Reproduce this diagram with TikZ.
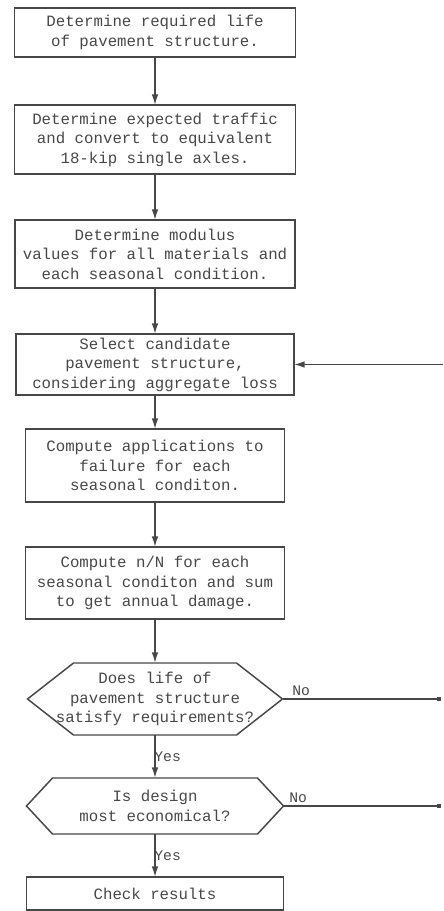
\documentclass[tikz,border=0pt]{standalone}
\usepackage{fontspec}
\setmainfont{Liberation Mono}
\usetikzlibrary{positioning, arrows.meta}

\begin{document}
\begin{tikzpicture}[
    x=0.75pt, y=-0.75pt,
    txt/.style={font=\fontsize{11.8}{14.6}\selectfont, text=black!72},
    box/.style={txt, draw=black!72, line width=1.1pt, align=center, inner sep=2pt, outer sep=0pt},
    decision/.style={txt, align=center, inner sep=0pt, outer sep=0pt},
    hexline/.style={draw=black!72, line width=1.1pt, line join=miter},
    arrow/.style={-{Latex[length=8pt, width=5pt]}, draw=black!72, line width=1.1pt},
    noline/.style={-{Square[length=3pt, width=3.5pt]}, draw=black!72, line width=0.8pt},
    lbl/.style={font=\fontsize{11}{13}\selectfont, text=black!72, inner sep=1pt},
]

\useasboundingbox (0,0) rectangle (443,911);

% Steps of the design procedure
\node[box, minimum width=210.75pt, minimum height=36.75pt] (life) at (155,32.5)
    {Determine required life\\of pavement structure.};
\node[box, below=36pt of life, minimum width=210.75pt, minimum height=51.75pt] (traffic)
    {Determine expected traffic\\and convert to equivalent\\18-kip single axles.};
\node[box, below=34.5pt of traffic, minimum width=210pt, minimum height=51pt] (modulus)
    {Determine modulus\\values for all materials and\\each seasonal condition.};
\node[box, below=34.5pt of modulus, minimum width=208.5pt, minimum height=45.75pt] (select)
    {Select candidate\\pavement structure,\\considering aggregate loss};
\node[box, below=25.5pt of select, minimum width=194.25pt, minimum height=54.75pt] (apps)
    {Compute applications to\\failure for each\\seasonal conditon.};
\node[box, below=33.75pt of apps, minimum width=194.25pt, minimum height=54pt] (damage)
    {Compute n/N for each\\seasonal conditon and sum\\to get annual damage.};

% Decisions
\node[decision, below=33pt of damage, minimum width=191.25pt, minimum height=54pt] (lifeok)
    {Does life of\\pavement structure\\satisfy requirements?};
\draw[hexline] (lifeok.west) -- ([xshift=34.5pt]lifeok.north west) -- ([xshift=-34.5pt]lifeok.north east)
    -- (lifeok.east) -- ([xshift=-34.5pt]lifeok.south east) -- ([xshift=34.5pt]lifeok.south west) -- cycle;

\node[decision, below=32.25pt of lifeok, minimum width=192.75pt, minimum height=42pt] (econ)
    {Is design\\most economical?};
\draw[hexline] (econ.west) -- ([xshift=19.5pt]econ.north west) -- ([xshift=-19.5pt]econ.north east)
    -- (econ.east) -- ([xshift=-19.5pt]econ.south east) -- ([xshift=19.5pt]econ.south west) -- cycle;

\node[box, below=32.25pt of econ, minimum width=192.75pt, minimum height=24.75pt] (check) {Check results};

% Flow
\draw[arrow] (life.south) -- (traffic.north);
\draw[arrow] (traffic.south) -- (modulus.north);
\draw[arrow] (modulus.south) -- (select.north);
\draw[arrow] (select.south) -- (apps.north);
\draw[arrow] (apps.south) -- (damage.north);
\draw[arrow] (damage.south) -- (lifeok.north);
\draw[arrow] (lifeok.south) -- node[lbl, right=-2pt] {Yes} (econ.north);
\draw[arrow] (econ.south) -- node[lbl, right=-2pt] {Yes} (check.north);

% Loop back from the right edge
\coordinate (rim) at (441,0);
\coordinate (rimin) at (443,0);
\draw[arrow] (select.east -| rimin) -- (select.east);
\draw[noline] (lifeok.east) -- node[lbl, pos=0, above right=1pt and 6pt] {No} (lifeok.east -| rim);
\draw[noline] (econ.east) -- node[lbl, pos=0, above right=1pt and 3pt] {No} (econ.east -| rim);

\end{tikzpicture}
\end{document}
